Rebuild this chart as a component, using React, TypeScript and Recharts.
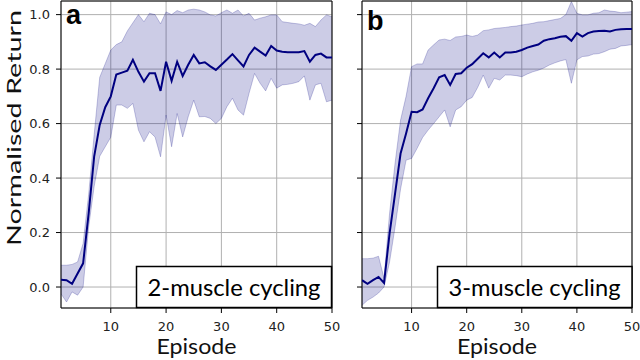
import React from 'react';
import { ComposedChart, Line, Area, XAxis, YAxis, CartesianGrid, ReferenceArea } from 'recharts';

const episodes = [1,2,3,4,5,6,7,8,9,10,11,12,13,14,15,16,17,18,19,20,21,22,23,24,25,26,27,28,29,30,31,32,33,34,35,36,37,38,39,40,41,42,43,44,45,46,47,48,49,50];

const meanA = [0.027,0.025,0.012,0.05,0.087,0.27,0.48,0.595,0.66,0.70,0.78,0.787,0.794,0.834,0.79,0.754,0.785,0.785,0.72,0.827,0.757,0.827,0.775,0.816,0.852,0.821,0.825,0.81,0.797,0.816,0.835,0.855,0.832,0.81,0.852,0.879,0.864,0.85,0.885,0.868,0.864,0.862,0.862,0.862,0.866,0.827,0.852,0.857,0.843,0.843];
const upperA = [0.08,0.08,0.083,0.092,0.16,0.34,0.56,0.77,0.82,0.87,0.89,0.90,0.94,0.97,1.0,0.974,1.005,1.0,0.966,1.01,1.0,1.015,1.007,1.017,1.02,1.017,1.01,0.999,0.995,1.007,1.017,1.005,1.017,0.995,1.005,0.98,0.987,0.992,0.999,0.999,0.974,0.971,0.968,0.966,0.961,0.968,0.956,0.98,0.999,0.992];
const lowerA = [-0.025,-0.055,-0.018,-0.03,0.0,0.22,0.37,0.48,0.515,0.55,0.668,0.668,0.656,0.674,0.576,0.533,0.57,0.551,0.478,0.631,0.515,0.637,0.551,0.625,0.686,0.625,0.626,0.619,0.60,0.619,0.662,0.693,0.65,0.631,0.711,0.784,0.748,0.72,0.766,0.73,0.742,0.744,0.748,0.754,0.775,0.686,0.742,0.748,0.68,0.686];

const meanB = [0.025,0.012,0.025,0.037,0.015,0.196,0.343,0.49,0.564,0.643,0.642,0.652,0.693,0.73,0.77,0.778,0.742,0.782,0.785,0.805,0.818,0.838,0.858,0.843,0.861,0.843,0.861,0.861,0.864,0.87,0.879,0.885,0.89,0.904,0.91,0.913,0.919,0.921,0.904,0.932,0.919,0.932,0.938,0.94,0.941,0.938,0.944,0.946,0.947,0.947];
const upperB = [0.104,0.104,0.106,0.113,0.032,0.27,0.454,0.613,0.70,0.809,0.819,0.819,0.87,0.889,0.907,0.91,0.905,0.918,0.92,0.925,0.92,0.925,0.941,0.944,0.949,0.951,0.953,0.956,0.958,0.962,0.965,0.968,0.973,0.974,0.978,0.982,0.986,1.0,1.048,1.005,0.999,0.999,1.005,1.007,1.017,1.013,1.011,1.007,1.009,1.011];
const lowerB = [-0.067,-0.049,-0.037,-0.022,0.0,0.092,0.22,0.36,0.466,0.472,0.509,0.549,0.576,0.60,0.625,0.65,0.588,0.65,0.662,0.686,0.696,0.733,0.778,0.73,0.766,0.76,0.778,0.778,0.776,0.772,0.782,0.79,0.796,0.804,0.815,0.823,0.83,0.835,0.748,0.834,0.846,0.848,0.855,0.857,0.864,0.873,0.876,0.885,0.887,0.89];

const xTicks = [10, 20, 30, 40, 50];
const yTicks = [0, 0.2, 0.4, 0.6, 0.8, 1.0];
const yDomain: [number, number] = [-0.077, 1.05];
const xDomain: [number, number] = [1, 50];

const panelTitles = ['2-muscle cycling', '3-muscle cycling'];
const panelLetters = ['a', 'b'];
const xLabel = 'Episode';
const yLabel = 'Normalised Return';

const build = (mean: number[], lo: number[], hi: number[]) =>
  episodes.map((ep, i) => ({ ep, mean: mean[i], band: [lo[i], hi[i]] }));

const dataA = build(meanA, lowerA, upperA);
const dataB = build(meanB, lowerB, upperB);

const NAVY = '#000080';
const tickStyle = { fontFamily: 'DejaVu Sans', fontSize: 13, fill: '#222' };
const labelFont = 'Lato';

function Panel({ data, showYLabels, width, margin, yWidth }: any) {
  return (
    <ComposedChart width={width} height={360} data={data} margin={margin}>
      <CartesianGrid stroke="#b0b0b0" strokeWidth={1} />
      <XAxis
        type="number"
        dataKey="ep"
        domain={xDomain}
        ticks={xTicks}
        allowDataOverflow
        height={30}
        tickSize={5}
        tickMargin={9}
        tick={tickStyle}
        axisLine={false}
        stroke="#000"
        label={(props: any) => {
          const vb = props.viewBox;
          const cx = vb.x + vb.width / 2;
          return (
            <text x={cx} y={vb.y + 46} textAnchor="middle" fontFamily={labelFont} fontSize={21} fill="#111" textLength={80} lengthAdjust="spacingAndGlyphs">
              {xLabel}
            </text>
          );
        }}
      />
      <YAxis
        type="number"
        domain={yDomain}
        ticks={yTicks}
        allowDataOverflow
        width={yWidth}
        tickSize={5}
        tickMargin={6}
        tick={tickStyle}
        axisLine={false}
        stroke="#000"
        tickFormatter={(v: number) => (showYLabels ? v.toFixed(1) : '')}
        label={showYLabels ? (props: any) => (
          <text x={21} y={128} transform="rotate(-90, 21, 128)" textAnchor="middle" fontFamily={labelFont} fontSize={20} fill="#111" textLength={236} lengthAdjust="spacingAndGlyphs">
            {yLabel}
          </text>
        ) : undefined}
      />
      <Area
        type="linear"
        dataKey="band"
        fill={NAVY}
        fillOpacity={0.2}
        stroke={NAVY}
        strokeOpacity={0.22}
        strokeWidth={1}
        isAnimationActive={false}
        dot={false}
        activeDot={false}
      />
      <Line
        type="linear"
        dataKey="mean"
        stroke={NAVY}
        strokeWidth={2}
        dot={false}
        activeDot={false}
        isAnimationActive={false}
      />
      <ReferenceArea x1={xDomain[0]} x2={xDomain[1]} y1={yDomain[0]} y2={yDomain[1]} fill="none" stroke="#000" strokeWidth={1} ifOverflow="visible" />
    </ComposedChart>
  );
}

export default function App() {
  return (
    <div style={{ position: 'absolute', left: 0, top: 0, width: 640, height: 360, background: '#fff', overflow: 'hidden' }}>
      <div style={{ position: 'absolute', left: 0, top: 0 }}>
        <Panel data={dataA} showYLabels width={340} yWidth={45} margin={{ top: 1, right: 8, bottom: 22, left: 16 }} />
      </div>
      <div style={{ position: 'absolute', left: 330, top: 0 }}>
        <Panel data={dataB} showYLabels={false} width={310} yWidth={30} margin={{ top: 1, right: 8, bottom: 22, left: 2 }} />
      </div>
      <svg width={640} height={360} style={{ position: 'absolute', left: 0, top: 0, pointerEvents: 'none' }}>
        <text x={66} y={24} fontFamily="Liberation Sans" fontWeight="bold" fontSize={27} fill="#000">{panelLetters[0]}</text>
        <text x={367} y={30} fontFamily="Liberation Sans" fontWeight="bold" fontSize={27} fill="#000">{panelLetters[1]}</text>
        <rect x={136.5} y={266.5} width={195} height={41} fill="#fff" stroke="#000" strokeWidth={1.5} />
        <text x={234} y={295.5} textAnchor="middle" fontFamily={labelFont} fontSize={23} fill="#000" textLength={173} lengthAdjust="spacingAndGlyphs">{panelTitles[0]}</text>
        <rect x={437.5} y={266.5} width={194.5} height={41} fill="#fff" stroke="#000" strokeWidth={1.5} />
        <text x={534.5} y={295.5} textAnchor="middle" fontFamily={labelFont} fontSize={23} fill="#000" textLength={172} lengthAdjust="spacingAndGlyphs">{panelTitles[1]}</text>
      </svg>
    </div>
  );
}
